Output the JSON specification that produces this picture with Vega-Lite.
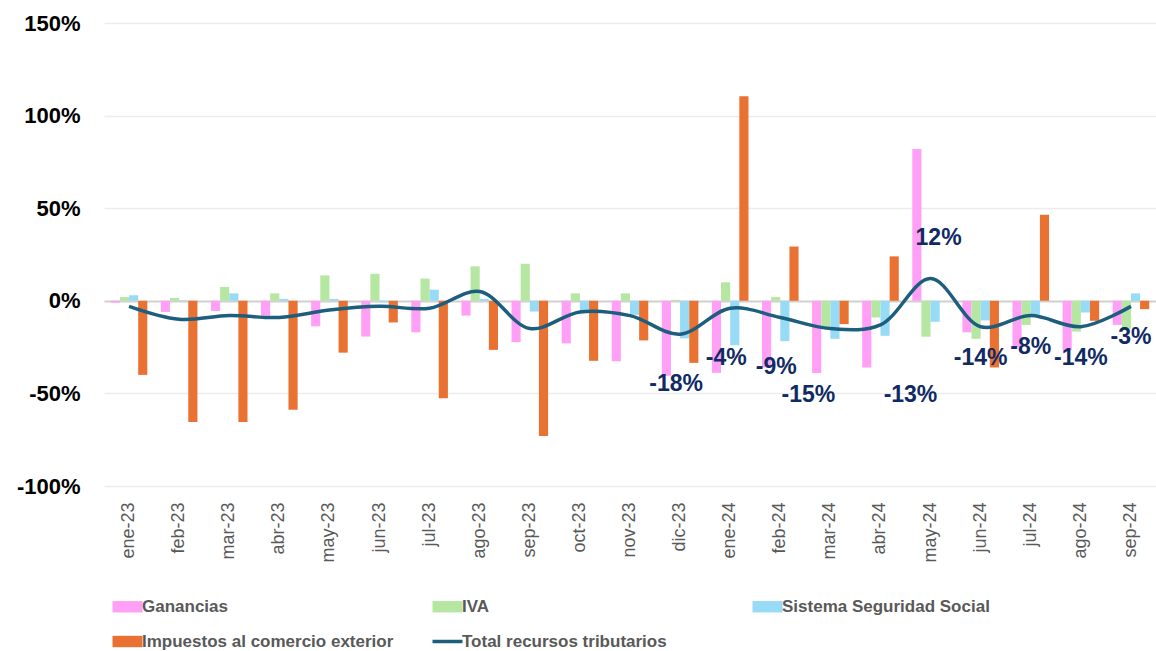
{
  "$schema": "https://vega.github.io/schema/vega-lite/v6.json",
  "width": 1052,
  "height": 463,
  "autosize": {"type": "none"},
  "padding": {"left": 104, "top": 23, "right": 0, "bottom": 165},
  "background": "white",
  "config": {"view": {"stroke": null}},
  "datasets": {
    "bars": [
      {"mes": "ene-23", "serie": "Ganancias", "valor": -1},
      {"mes": "ene-23", "serie": "IVA", "valor": 2},
      {"mes": "ene-23", "serie": "Sistema Seguridad Social", "valor": 3},
      {"mes": "ene-23", "serie": "Impuestos al comercio exterior", "valor": -40},
      {"mes": "feb-23", "serie": "Ganancias", "valor": -6},
      {"mes": "feb-23", "serie": "IVA", "valor": 1.5},
      {"mes": "feb-23", "serie": "Sistema Seguridad Social", "valor": 0.3},
      {"mes": "feb-23", "serie": "Impuestos al comercio exterior", "valor": -65.5},
      {"mes": "mar-23", "serie": "Ganancias", "valor": -5.5},
      {"mes": "mar-23", "serie": "IVA", "valor": 7.5},
      {"mes": "mar-23", "serie": "Sistema Seguridad Social", "valor": 4},
      {"mes": "mar-23", "serie": "Impuestos al comercio exterior", "valor": -65.5},
      {"mes": "abr-23", "serie": "Ganancias", "valor": -8},
      {"mes": "abr-23", "serie": "IVA", "valor": 4},
      {"mes": "abr-23", "serie": "Sistema Seguridad Social", "valor": 1},
      {"mes": "abr-23", "serie": "Impuestos al comercio exterior", "valor": -58.8},
      {"mes": "may-23", "serie": "Ganancias", "valor": -13.8},
      {"mes": "may-23", "serie": "IVA", "valor": 13.7},
      {"mes": "may-23", "serie": "Sistema Seguridad Social", "valor": 1},
      {"mes": "may-23", "serie": "Impuestos al comercio exterior", "valor": -28},
      {"mes": "jun-23", "serie": "Ganancias", "valor": -19.3},
      {"mes": "jun-23", "serie": "IVA", "valor": 14.6},
      {"mes": "jun-23", "serie": "Sistema Seguridad Social", "valor": -0.8},
      {"mes": "jun-23", "serie": "Impuestos al comercio exterior", "valor": -11.7},
      {"mes": "jul-23", "serie": "Ganancias", "valor": -17},
      {"mes": "jul-23", "serie": "IVA", "valor": 12},
      {"mes": "jul-23", "serie": "Sistema Seguridad Social", "valor": 6},
      {"mes": "jul-23", "serie": "Impuestos al comercio exterior", "valor": -52.6},
      {"mes": "ago-23", "serie": "Ganancias", "valor": -8},
      {"mes": "ago-23", "serie": "IVA", "valor": 18.6},
      {"mes": "ago-23", "serie": "Sistema Seguridad Social", "valor": 1},
      {"mes": "ago-23", "serie": "Impuestos al comercio exterior", "valor": -26.5},
      {"mes": "sep-23", "serie": "Ganancias", "valor": -22.3},
      {"mes": "sep-23", "serie": "IVA", "valor": 20},
      {"mes": "sep-23", "serie": "Sistema Seguridad Social", "valor": -5.8},
      {"mes": "sep-23", "serie": "Impuestos al comercio exterior", "valor": -73},
      {"mes": "oct-23", "serie": "Ganancias", "valor": -23},
      {"mes": "oct-23", "serie": "IVA", "valor": 4},
      {"mes": "oct-23", "serie": "Sistema Seguridad Social", "valor": -5.8},
      {"mes": "oct-23", "serie": "Impuestos al comercio exterior", "valor": -32.4},
      {"mes": "nov-23", "serie": "Ganancias", "valor": -32.7},
      {"mes": "nov-23", "serie": "IVA", "valor": 4},
      {"mes": "nov-23", "serie": "Sistema Seguridad Social", "valor": -7.6},
      {"mes": "nov-23", "serie": "Impuestos al comercio exterior", "valor": -21.4},
      {"mes": "dic-23", "serie": "Ganancias", "valor": -40.5},
      {"mes": "dic-23", "serie": "IVA", "valor": 0.5},
      {"mes": "dic-23", "serie": "Sistema Seguridad Social", "valor": -20.3},
      {"mes": "dic-23", "serie": "Impuestos al comercio exterior", "valor": -33.5},
      {"mes": "ene-24", "serie": "Ganancias", "valor": -38.9},
      {"mes": "ene-24", "serie": "IVA", "valor": 10},
      {"mes": "ene-24", "serie": "Sistema Seguridad Social", "valor": -24},
      {"mes": "ene-24", "serie": "Impuestos al comercio exterior", "valor": 110.5},
      {"mes": "feb-24", "serie": "Ganancias", "valor": -36},
      {"mes": "feb-24", "serie": "IVA", "valor": 2},
      {"mes": "feb-24", "serie": "Sistema Seguridad Social", "valor": -21.8},
      {"mes": "feb-24", "serie": "Impuestos al comercio exterior", "valor": 29.3},
      {"mes": "mar-24", "serie": "Ganancias", "valor": -39},
      {"mes": "mar-24", "serie": "IVA", "valor": -14},
      {"mes": "mar-24", "serie": "Sistema Seguridad Social", "valor": -20.5},
      {"mes": "mar-24", "serie": "Impuestos al comercio exterior", "valor": -12.6},
      {"mes": "abr-24", "serie": "Ganancias", "valor": -36},
      {"mes": "abr-24", "serie": "IVA", "valor": -9},
      {"mes": "abr-24", "serie": "Sistema Seguridad Social", "valor": -18.9},
      {"mes": "abr-24", "serie": "Impuestos al comercio exterior", "valor": 24},
      {"mes": "may-24", "serie": "Ganancias", "valor": 82},
      {"mes": "may-24", "serie": "IVA", "valor": -19.4},
      {"mes": "may-24", "serie": "Sistema Seguridad Social", "valor": -11.3},
      {"mes": "may-24", "serie": "Impuestos al comercio exterior", "valor": 0},
      {"mes": "jun-24", "serie": "Ganancias", "valor": -17},
      {"mes": "jun-24", "serie": "IVA", "valor": -20.5},
      {"mes": "jun-24", "serie": "Sistema Seguridad Social", "valor": -10.6},
      {"mes": "jun-24", "serie": "Impuestos al comercio exterior", "valor": -36},
      {"mes": "jul-24", "serie": "Ganancias", "valor": -25},
      {"mes": "jul-24", "serie": "IVA", "valor": -13},
      {"mes": "jul-24", "serie": "Sistema Seguridad Social", "valor": -7.6},
      {"mes": "jul-24", "serie": "Impuestos al comercio exterior", "valor": 46.4},
      {"mes": "ago-24", "serie": "Ganancias", "valor": -26.8},
      {"mes": "ago-24", "serie": "IVA", "valor": -16.6},
      {"mes": "ago-24", "serie": "Sistema Seguridad Social", "valor": -6.3},
      {"mes": "ago-24", "serie": "Impuestos al comercio exterior", "valor": -10.8},
      {"mes": "sep-24", "serie": "Ganancias", "valor": -13},
      {"mes": "sep-24", "serie": "IVA", "valor": -15},
      {"mes": "sep-24", "serie": "Sistema Seguridad Social", "valor": 4},
      {"mes": "sep-24", "serie": "Impuestos al comercio exterior", "valor": -4.5}
    ],
    "total": [
      {"mes": "ene-23", "serie": "Total recursos tributarios", "valor": -3, "etiqueta": ""},
      {"mes": "feb-23", "serie": "Total recursos tributarios", "valor": -10, "etiqueta": ""},
      {"mes": "mar-23", "serie": "Total recursos tributarios", "valor": -8, "etiqueta": ""},
      {"mes": "abr-23", "serie": "Total recursos tributarios", "valor": -9, "etiqueta": ""},
      {"mes": "may-23", "serie": "Total recursos tributarios", "valor": -5, "etiqueta": ""},
      {"mes": "jun-23", "serie": "Total recursos tributarios", "valor": -3, "etiqueta": ""},
      {"mes": "jul-23", "serie": "Total recursos tributarios", "valor": -4, "etiqueta": ""},
      {"mes": "ago-23", "serie": "Total recursos tributarios", "valor": 5, "etiqueta": ""},
      {"mes": "sep-23", "serie": "Total recursos tributarios", "valor": -15, "etiqueta": ""},
      {"mes": "oct-23", "serie": "Total recursos tributarios", "valor": -6, "etiqueta": ""},
      {"mes": "nov-23", "serie": "Total recursos tributarios", "valor": -8, "etiqueta": ""},
      {"mes": "dic-23", "serie": "Total recursos tributarios", "valor": -18, "etiqueta": "-18%"},
      {"mes": "ene-24", "serie": "Total recursos tributarios", "valor": -4, "etiqueta": "-4%"},
      {"mes": "feb-24", "serie": "Total recursos tributarios", "valor": -9, "etiqueta": "-9%"},
      {"mes": "mar-24", "serie": "Total recursos tributarios", "valor": -15, "etiqueta": "-15%"},
      {"mes": "abr-24", "serie": "Total recursos tributarios", "valor": -13, "etiqueta": "-13%"},
      {"mes": "may-24", "serie": "Total recursos tributarios", "valor": 12, "etiqueta": "12%"},
      {"mes": "jun-24", "serie": "Total recursos tributarios", "valor": -14, "etiqueta": "-14%"},
      {"mes": "jul-24", "serie": "Total recursos tributarios", "valor": -8, "etiqueta": "-8%"},
      {"mes": "ago-24", "serie": "Total recursos tributarios", "valor": -14, "etiqueta": "-14%"},
      {"mes": "sep-24", "serie": "Total recursos tributarios", "valor": -3, "etiqueta": "-3%"}
    ]
  },
  "encoding": {
    "x": {
      "field": "mes",
      "type": "nominal",
      "sort": null,
      "scale": {"paddingInner": 0.27, "paddingOuter": 0.135},
      "axis": {
        "title": null,
        "labelAngle": -90,
        "labelFont": "Liberation Sans",
        "labelFontSize": 18,
        "labelColor": "#595959",
        "labelPadding": 16,
        "ticks": false,
        "domain": false,
        "grid": false
      }
    }
  },
  "layer": [
    {
      "data": {"name": "bars"},
      "mark": {"type": "bar"},
      "encoding": {
        "xOffset": {
          "field": "serie",
          "type": "nominal",
          "sort": ["Ganancias", "IVA", "Sistema Seguridad Social", "Impuestos al comercio exterior"],
          "scale": {"paddingInner": 0, "paddingOuter": 0}
        },
        "y": {
          "field": "valor",
          "type": "quantitative",
          "scale": {"domain": [-100, 150], "nice": false},
          "axis": {
            "title": null,
            "values": [-100, -50, 0, 50, 100, 150],
            "labelExpr": "datum.value + '%'",
            "labelFont": "Liberation Sans",
            "labelFontSize": 22,
            "labelFontWeight": "bold",
            "labelColor": "#000000",
            "labelPadding": 24,
            "ticks": false,
            "domain": false,
            "gridColor": {"condition": {"test": "datum.value === 0", "value": "#d0d0d0"}, "value": "#ececec"},
            "gridWidth": {"condition": {"test": "datum.value === 0", "value": 2}, "value": 1.3}
          }
        },
        "color": {
          "field": "serie",
          "type": "nominal",
          "scale": {
            "domain": ["Ganancias", "IVA", "Sistema Seguridad Social", "Impuestos al comercio exterior", "Total recursos tributarios"],
            "range": ["#FFA0F6", "#B5E6A2", "#97DBF6", "#E97132", "#1D5E7E"]
          },
          "legend": {
            "title": null,
            "orient": "none",
            "legendX": 15,
            "legendY": 575,
            "direction": "horizontal",
            "columns": 3,
            "gridAlign": "all",
            "columnPadding": 31,
            "rowPadding": 17,
            "labelFont": "Liberation Sans",
            "labelFontSize": 17,
            "labelFontWeight": "bold",
            "labelColor": "#595959",
            "labelLimit": 400,
            "labelOffset": 6,
            "symbolSize": 900,
            "symbolType": "M-1,-0.38H1V0.38H-1Z",
            "symbolStrokeWidth": 0,
            "encode": {
              "symbols": {
                "update": {
                  "shape": {"signal": "datum.value === 'Total recursos tributarios' ? 'stroke' : 'M-1,-0.38H1V0.38H-1Z'"},
                  "stroke": {"signal": "datum.value === 'Total recursos tributarios' ? '#1D5E7E' : 'transparent'"},
                  "strokeWidth": {"signal": "datum.value === 'Total recursos tributarios' ? 3.5 : 0"},
                  "fill": {"signal": "datum.value === 'Total recursos tributarios' ? 'transparent' : scale('color', datum.value)"},
                  "opacity": {"value": 1}
                }
              }
            }
          }
        }
      }
    },
    {
      "data": {"name": "total"},
      "mark": {"type": "line", "interpolate": "catmull-rom", "strokeWidth": 3.5, "color": "#1D5E7E"},
      "encoding": {
        "y": {"field": "valor", "type": "quantitative"},
        "color": {"field": "serie", "type": "nominal"}
      }
    },
    {
      "data": {"name": "total"},
      "transform": [{"filter": "indexof(['dic-23','ene-24','feb-24'], datum.mes) >= 0"}],
      "mark": {"type": "text", "dy": 50, "dx": -4, "font": "Liberation Sans", "fontSize": 23, "fontWeight": "bold", "color": "#102A63"},
      "encoding": {
        "y": {"field": "valor", "type": "quantitative"},
        "text": {"field": "etiqueta"}
      }
    },
    {
      "data": {"name": "total"},
      "transform": [{"filter": "datum.mes === 'mar-24'"}],
      "mark": {"type": "text", "dy": 66, "dx": -22, "font": "Liberation Sans", "fontSize": 23, "fontWeight": "bold", "color": "#102A63"},
      "encoding": {
        "y": {"field": "valor", "type": "quantitative"},
        "text": {"field": "etiqueta"}
      }
    },
    {
      "data": {"name": "total"},
      "transform": [{"filter": "datum.mes === 'abr-24'"}],
      "mark": {"type": "text", "dy": 70, "dx": 30, "font": "Liberation Sans", "fontSize": 23, "fontWeight": "bold", "color": "#102A63"},
      "encoding": {
        "y": {"field": "valor", "type": "quantitative"},
        "text": {"field": "etiqueta"}
      }
    },
    {
      "data": {"name": "total"},
      "transform": [{"filter": "datum.mes === 'may-24'"}],
      "mark": {"type": "text", "dy": -41, "dx": 8, "font": "Liberation Sans", "fontSize": 23, "fontWeight": "bold", "color": "#102A63"},
      "encoding": {
        "y": {"field": "valor", "type": "quantitative"},
        "text": {"field": "etiqueta"}
      }
    },
    {
      "data": {"name": "total"},
      "transform": [{"filter": "indexof(['jun-24','jul-24','ago-24','sep-24'], datum.mes) >= 0"}],
      "mark": {"type": "text", "dy": 31, "font": "Liberation Sans", "fontSize": 23, "fontWeight": "bold", "color": "#102A63"},
      "encoding": {
        "y": {"field": "valor", "type": "quantitative"},
        "text": {"field": "etiqueta"}
      }
    }
  ]
}
